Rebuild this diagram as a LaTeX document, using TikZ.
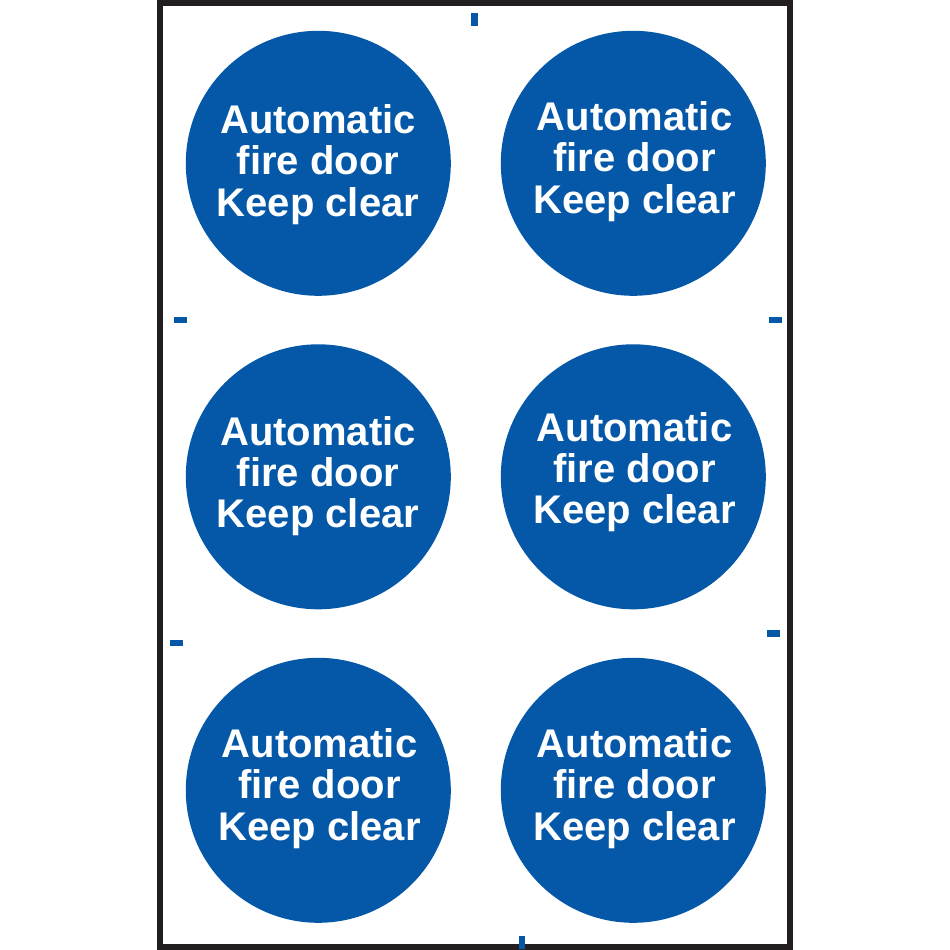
\documentclass[tikz,border=0pt]{standalone}
\usepackage{fontspec}
\setmainfont{Liberation Sans}
\definecolor{signblue}{HTML}{0558A8}
\definecolor{framegrey}{HTML}{231F20}
\tikzset{
  disc/.style={circle,fill=signblue,draw=none,inner sep=0pt,minimum size=265pt},
  signtext/.style={text=white,align=center,inner sep=0pt,font=\bfseries\fontsize{40}{41.3}\selectfont},
  tickh/.style={fill=signblue,draw=none,inner sep=0pt,minimum width=13pt,minimum height=6.5pt},
  tickv/.style={fill=signblue,draw=none,inner sep=0pt,minimum width=6.5pt,minimum height=13pt}
}
\begin{document}
\begin{tikzpicture}[x=1pt,y=-1pt]
  \useasboundingbox[fill=white] (0,0) rectangle (950,950);
  % sheet edge
  \draw[framegrey,line width=6pt] (159.5,3) rectangle (789.5,947);
  % the six signs: name, disc centre, text centre
  \foreach \nm/\cx/\cy/\tx/\ty in {
      a/318.3/163.3/318/164.5,
      b/633.3/163.3/634.5/161.5,
      c/318.3/476.8/318/476,
      d/633.3/476.8/634.5/472,
      e/318.3/790.3/319.5/788.5,
      f/633.3/790.3/634.5/788.5}{
    \node[disc] (disc-\nm) at (\cx,\cy) {};
    \node[signtext] (text-\nm) at (\tx,\ty) {Automatic\\fire door\\Keep clear};
  }
  % cut marks
  \node[tickv] (marktop) at (474.3,20) {};
  \node[tickv] (markbottom) at (522,942) {};
  \node[tickh] (markleft) at (180.5,320) {};
  \node[tickh] (markright) at (775,320) {};
  \node[tickh] (markleftb) at (176.5,643) {};
  \node[tickh] (markrightb) at (773.5,633.5) {};
\end{tikzpicture}
\end{document}
